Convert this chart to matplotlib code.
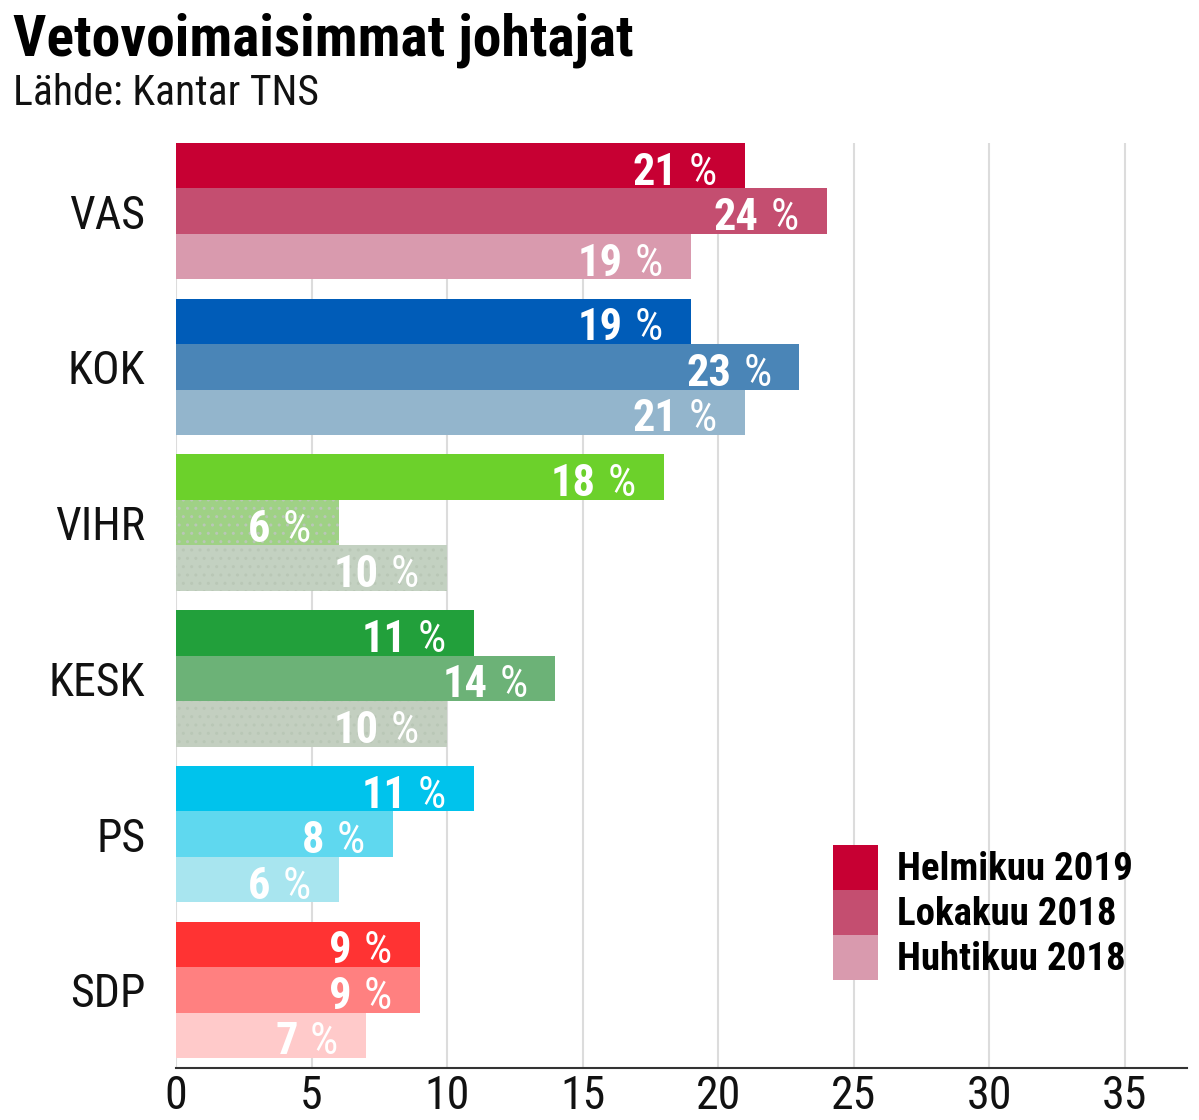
import matplotlib
matplotlib.use("Agg")
import matplotlib.pyplot as plt
from matplotlib.patches import Patch
import numpy as np

plt.rcParams['font.family'] = ['Roboto Condensed', 'Liberation Sans Narrow', 'Roboto', 'DejaVu Sans']

parties = ["VAS", "KOK", "VIHR", "KESK", "PS", "SDP"]
series = ["Helmikuu 2019", "Lokakuu 2018", "Huhtikuu 2018"]
helmikuu_2019 = [21, 19, 18, 11, 11, 9]
lokakuu_2018 = [24, 23, 6, 14, 8, 9]
huhtikuu_2018 = [19, 21, 10, 10, 6, 7]
colors = {
    "VAS": ["#c70033", "#c44e70", "#d99aae"],
    "KOK": ["#005cb8", "#4a85b7", "#93b5cc"],
    "VIHR": ["#6cd12b", "#9fd185", "#c3d1c1"],
    "KESK": ["#22a03b", "#6cb277", "#c3cfc0"],
    "PS": ["#00c3ec", "#5fd8ef", "#a8e5ef"],
    "SDP": ["#ff3333", "#ff8080", "#ffcaca"],
}
dotted = {("VIHR", 1), ("VIHR", 2), ("KESK", 2)}
xticks = [0, 5, 10, 15, 20, 25, 30, 35]

values = [helmikuu_2019, lokakuu_2018, huhtikuu_2018]

fig = plt.figure(figsize=(11.99, 11.2), dpi=100)
ax = fig.add_axes([176/1199, 1-1068/1120, (1187-176)/1199, (1068-143)/1120])

h = 45.5/156
for i, p in enumerate(parties):
    for j in range(3):
        v = values[j][i]
        y = i + (j-1)*h
        hatch = '..' if (p, j) in dotted else None
        ax.barh(y, v, height=h, color=colors[p][j], edgecolor='#b9c7b6' if hatch else colors[p][j],
                linewidth=0, hatch=hatch, zorder=2)
        ax.annotate("%", xy=(v, y), xytext=(-28, -19), textcoords='offset pixels',
                    ha='right', va='baseline', color='white', fontsize=32, fontweight='normal', zorder=3)
        ax.annotate(str(v), xy=(v, y), xytext=(-68, -19), textcoords='offset pixels',
                    ha='right', va='baseline', color='white', fontsize=32, fontweight='bold', zorder=3)

ax.set_xlim(0, 37.3)
ax.set_ylim(5 + 1.5*h + 10/156, -1.5*h)
ax.set_xticks(xticks)
ax.set_xticklabels([str(t) for t in xticks])
ax.set_yticks(range(len(parties)))
ax.set_yticklabels(parties)
ax.tick_params(axis='both', length=0, labelsize=33, colors='#111111')
ax.tick_params(axis='y', pad=22)
ax.tick_params(axis='x', pad=4)
ax.grid(axis='x', color='#dcdcdc', linewidth=1.5, zorder=0)
ax.set_axisbelow(True)
for s in ['top', 'right', 'left']:
    ax.spines[s].set_visible(False)
ax.spines['bottom'].set_color('#333333')
ax.spines['bottom'].set_linewidth(1.5)

handles = [Patch(facecolor=c, edgecolor='none') for c in colors["VAS"]]
fs = 28
fspx = fs * 100/72
hh = (45/fspx - 0.245)/0.65
ax.legend(handles, series, loc='upper left', bbox_to_anchor=(833/1199, 1-845/1120),
          bbox_transform=fig.transFigure, frameon=False, borderpad=0, borderaxespad=0,
          labelspacing=0, handlelength=45/fspx, handleheight=hh, handletextpad=19/fspx,
          prop={'size': fs, 'weight': 'bold'})

fig.text(13/1199, 1-12/1120, "Vetovoimaisimmat johtajat", fontsize=41.5, fontweight='bold',
         ha='left', va='top', color='#000000')
fig.text(13/1199, 1-105/1120, "Lähde: Kantar TNS", fontsize=30,
         ha='left', va='baseline', color='#111111')

fig.savefig("out.png", dpi=100)
